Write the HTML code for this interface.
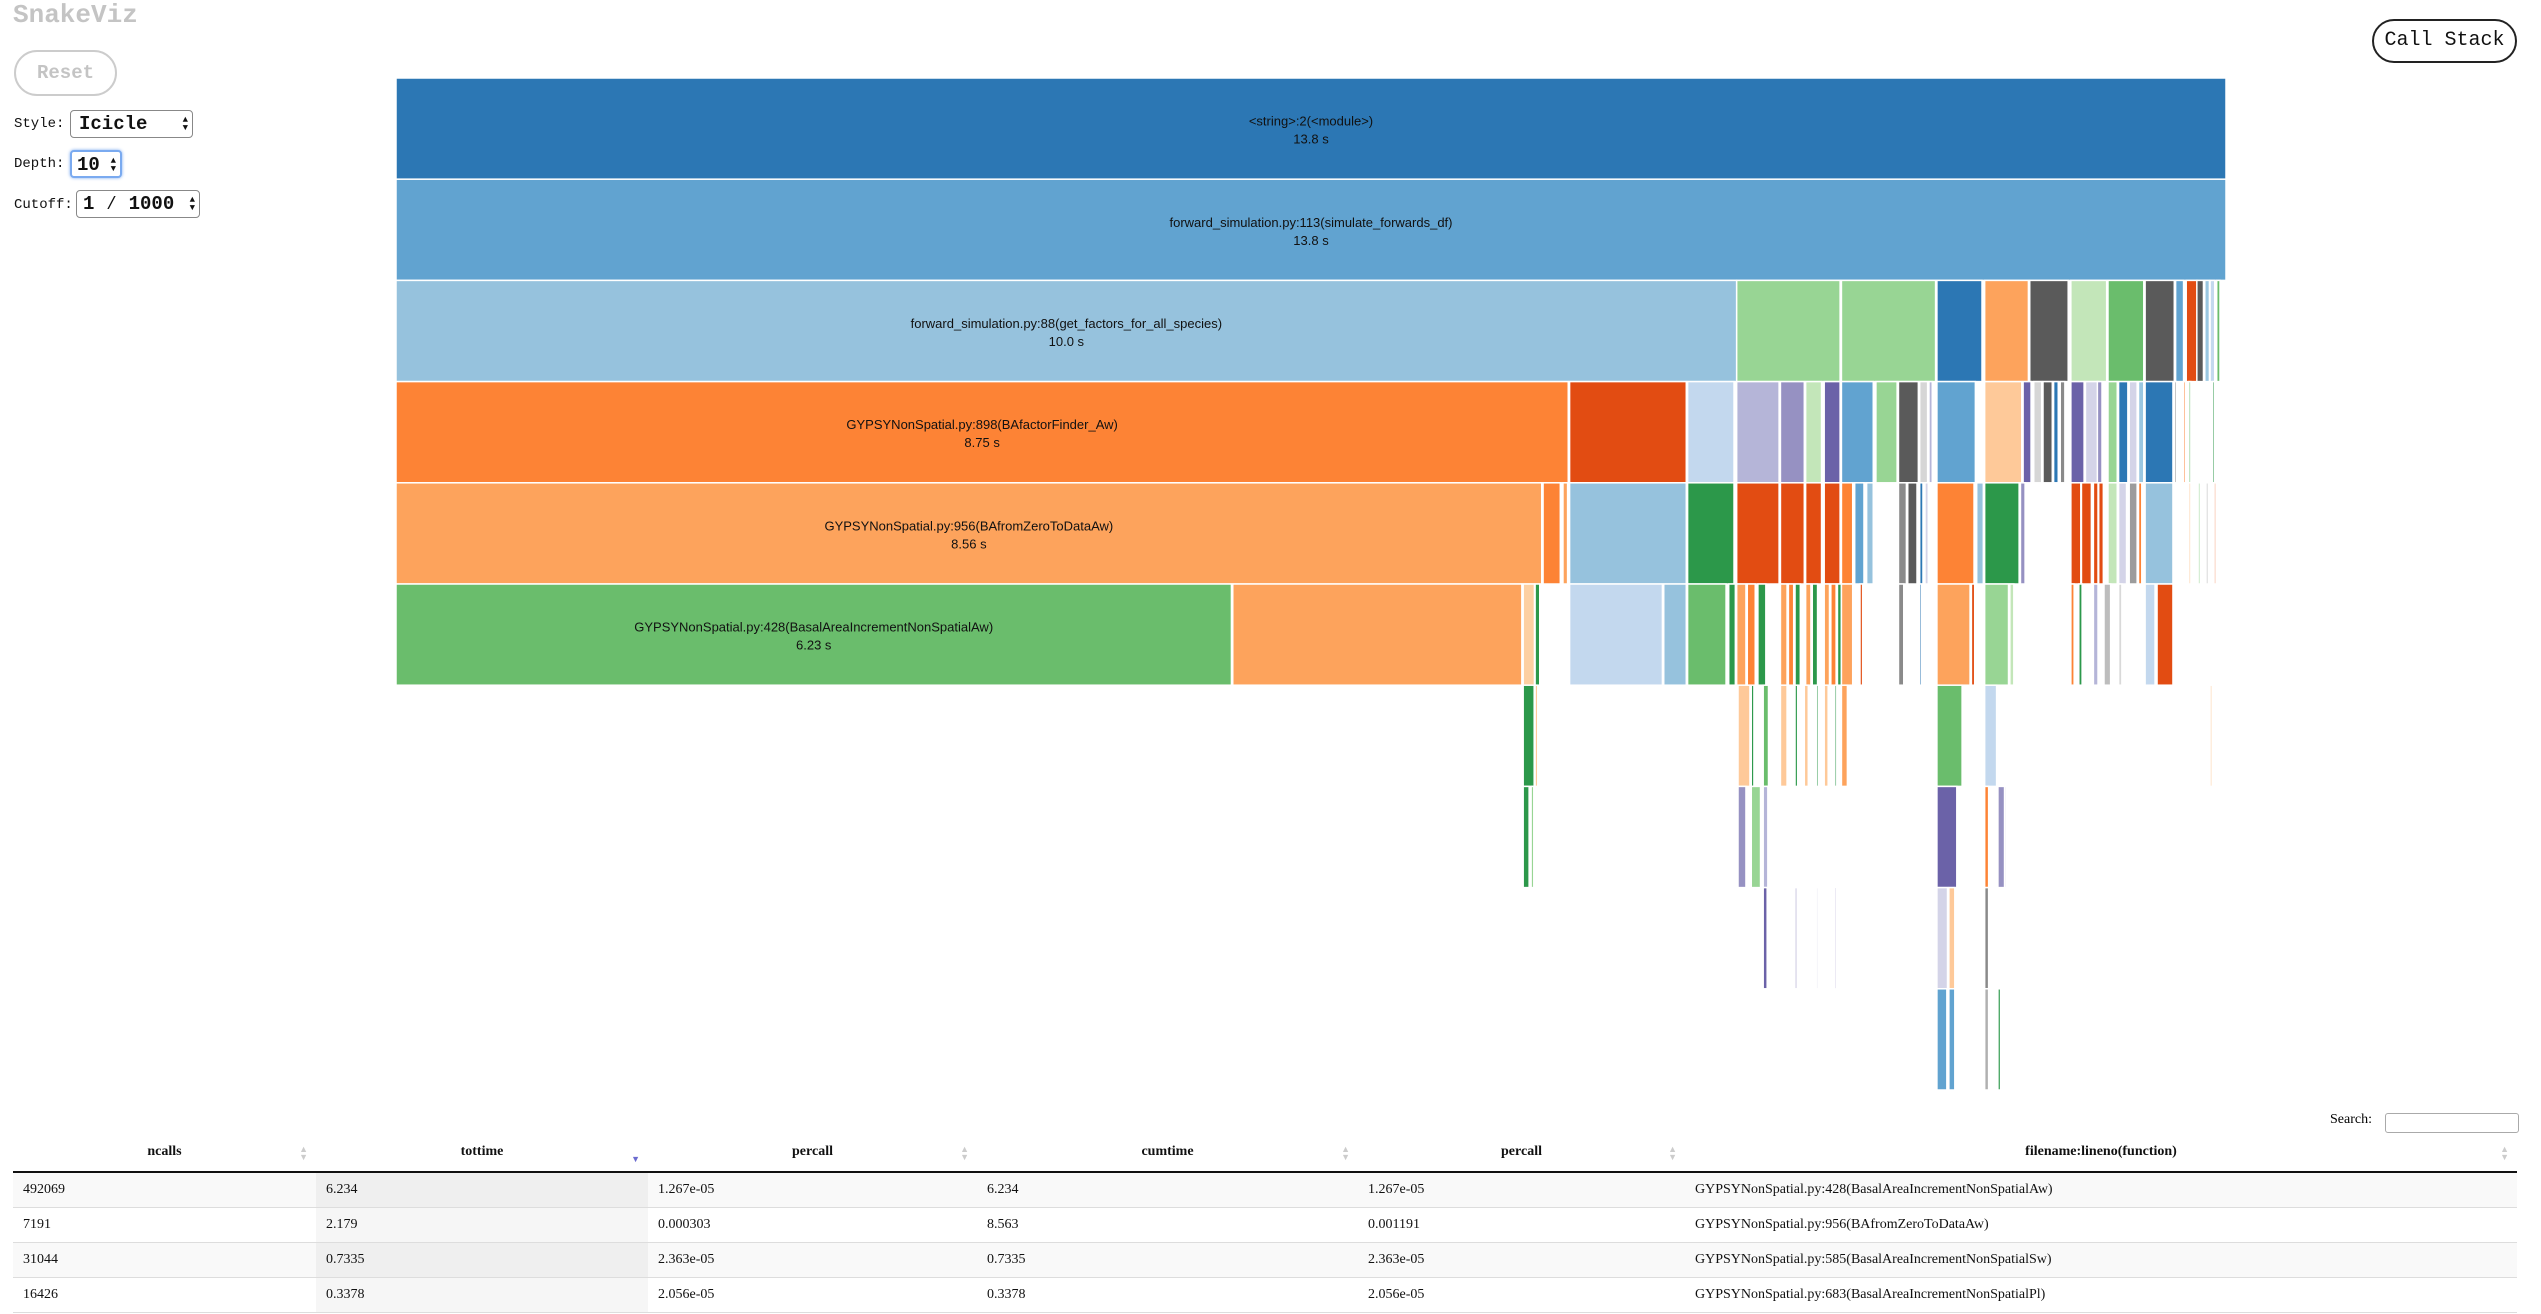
<!DOCTYPE html>
<html><head><meta charset="utf-8">
<style>
body{margin:0;width:2541px;height:1314px;background:#fff;position:relative;overflow:hidden;font-family:"Liberation Mono",monospace}
.abs{position:absolute}
#title{left:13px;top:0px;font-size:26px;font-weight:bold;color:#c4c4c4}
#reset{left:14px;top:50px;width:103px;height:46px;border:2px solid #ccc;border-radius:24px;box-sizing:border-box;color:#c4c4c4;font-size:19px;font-weight:bold;text-align:center;line-height:42px}
.lbl{font-size:14px;color:#111}
.sel{border:1px solid #888;border-radius:4px;box-sizing:border-box;background:#fff;font-size:19px;font-weight:bold;color:#111;padding-left:8px;line-height:26px}
.arr{position:absolute;right:4px;top:5px;font-size:9px;line-height:8px;text-align:center}
#callstack{left:2372px;top:19px;width:145px;height:44px;border:2px solid #222;border-radius:22px;box-sizing:border-box;font-size:20px;text-align:center;line-height:40px;color:#111}
#chart{left:0;top:0}
table{position:absolute;left:13px;top:1133px;width:2504px;border-collapse:collapse;font-family:"Liberation Serif",serif;font-size:14px;color:#111}
th{font-weight:bold;height:38px;border-bottom:2px solid #111;position:relative;text-align:center;padding:0}
th .s{position:absolute;right:8px;top:12px;color:#ccc;font-size:9px;line-height:8px}
td{height:34px;border-bottom:1px solid #ddd;padding:0 0 0 10px}
tr.o td{background:#f9f9f9}
tr.o td.srt{background:#efefef}
tr.e td.srt{background:#f6f6f6}
</style></head><body>
<div class="abs" id="title">SnakeViz</div>
<div class="abs" id="reset">Reset</div>
<div class="abs lbl" style="left:14px;top:116px">Style:</div>
<div class="abs sel" style="left:70px;top:110px;width:123px;height:28px">Icicle<div class="arr">▲<br>▼</div></div>
<div class="abs lbl" style="left:14px;top:156px">Depth:</div>
<div class="abs sel" style="left:70px;top:150px;width:52px;height:28px;border:2px solid #7aaaf0;box-shadow:0 0 3px #7aaaf0;padding-left:5px">10<div class="arr">▲<br>▼</div></div>
<div class="abs lbl" style="left:14px;top:197px">Cutoff:</div>
<div class="abs sel" style="left:76px;top:190px;width:124px;height:28px;padding-left:6px">1 ⁄ 1000<div class="arr">▲<br>▼</div></div>
<div class="abs" id="callstack">Call Stack</div>

<svg id="chart" class="abs" width="2541" height="1100"></svg>

<div class="abs" style="left:2330px;top:1112px;font-family:'Liberation Serif',serif;font-size:14px">Search:</div>
<div class="abs" style="left:2385px;top:1113px;width:132px;height:18px;border:1px solid #aaa;border-radius:3px"></div>

<table>
<colgroup><col style="width:303px"><col style="width:332px"><col style="width:329px"><col style="width:381px"><col style="width:327px"><col></colgroup>
<tr>
<th>ncalls<span class="s">▲<br>▼</span></th>
<th>tottime<span class="s" style="color:#6b6bcf;top:22px">▼</span></th>
<th>percall<span class="s">▲<br>▼</span></th>
<th>cumtime<span class="s">▲<br>▼</span></th>
<th>percall<span class="s">▲<br>▼</span></th>
<th>filename:lineno(function)<span class="s">▲<br>▼</span></th></tr>
<tr class="o"><td>492069</td><td class="srt">6.234</td><td>1.267e-05</td><td>6.234</td><td>1.267e-05</td><td>GYPSYNonSpatial.py:428(BasalAreaIncrementNonSpatialAw)</td></tr>
<tr class="e"><td>7191</td><td class="srt">2.179</td><td>0.000303</td><td>8.563</td><td>0.001191</td><td>GYPSYNonSpatial.py:956(BAfromZeroToDataAw)</td></tr>
<tr class="o"><td>31044</td><td class="srt">0.7335</td><td>2.363e-05</td><td>0.7335</td><td>2.363e-05</td><td>GYPSYNonSpatial.py:585(BasalAreaIncrementNonSpatialSw)</td></tr>
<tr class="e"><td>16426</td><td class="srt">0.3378</td><td>2.056e-05</td><td>0.3378</td><td>2.056e-05</td><td>GYPSYNonSpatial.py:683(BasalAreaIncrementNonSpatialPl)</td></tr>
</table>

<script>
// icicle data: depth, start (s), duration (s), colour, label, time label
const totalTime = 13.8;
const nodeDepth = [0,1,2,2,2,2,2,2,2,2,2,2,2,2,2,2,2,
3,3,3,3,3,3,3,3,3,3,3,3,3,3,3,3,3,3,3,3,3,3,3,3,3,3,3,3,3,3,3,
4,4,4,4,4,4,4,4,4,4,4,4,4,4,4,4,4,4,4,4,4,4,4,4,4,4,4,4,4,4,4,4,4,
5,5,5,5,5,5,5,5,5,5,5,5,5,5,5,5,5,5,5,5,5,5,5,5,5,5,5,5,5,5,5,5,5,5,
6,6,6,6,6,6,6,6,6,6,6,6,6,6,6,
7,7,7,7,7,7,7,7,7,
8,8,8,8,8,8,8,8,
9,9,9,9];
const nodeStart = [0,0,0,10.11,10.90,11.62,11.98,12.32,12.63,12.91,13.19,13.42,13.50,13.58,13.64,13.68,13.73,
0,8.85,9.74,10.11,10.44,10.63,10.77,10.90,11.16,11.33,11.49,11.56,11.62,11.98,12.27,12.35,12.42,12.50,12.55,12.63,12.74,12.83,12.91,12.99,13.07,13.14,13.19,13.41,13.48,13.52,13.70,
0,8.65,8.80,8.85,9.74,10.11,10.44,10.63,10.77,10.90,11.00,11.09,11.33,11.40,11.49,11.53,11.62,11.92,11.98,12.25,12.63,12.71,12.80,12.84,12.91,12.99,13.07,13.14,13.19,13.52,13.59,13.65,13.71,
0,6.31,8.50,8.59,8.85,9.56,9.74,10.05,10.11,10.19,10.27,10.44,10.50,10.55,10.63,10.68,10.77,10.82,10.87,10.90,11.04,11.33,11.49,11.62,11.88,11.98,12.17,12.63,12.69,12.80,12.88,12.99,13.19,13.28,13.68,
8.50,8.59,10.12,10.22,10.31,10.44,10.55,10.62,10.71,10.77,10.85,10.90,11.62,11.98,12.08,
8.50,8.56,10.12,10.22,10.31,11.62,11.98,12.08,12.25,
10.31,10.55,10.71,10.85,11.62,11.71,11.98,12.08,
11.62,11.71,11.98,12.08];
const nodeDur = [13.8,13.8,10.11,0.78,0.71,0.34,0.33,0.29,0.27,0.27,0.22,0.06,0.085,0.05,0.035,0.035,0.025,
8.84,0.88,0.35,0.32,0.18,0.12,0.12,0.24,0.16,0.15,0.06,0.025,0.29,0.28,0.06,0.06,0.07,0.035,0.035,0.10,0.10,0.035,0.07,0.07,0.06,0.04,0.21,0.015,0.015,0.015,0.015,
8.64,0.13,0.035,0.88,0.35,0.32,0.18,0.12,0.12,0.085,0.07,0.05,0.06,0.07,0.025,0.025,0.28,0.05,0.26,0.035,0.075,0.075,0.035,0.035,0.07,0.06,0.06,0.025,0.21,0.015,0.015,0.015,0.015,
6.30,2.18,0.085,0.035,0.70,0.17,0.29,0.05,0.07,0.06,0.06,0.05,0.04,0.04,0.04,0.04,0.04,0.04,0.03,0.085,0.02,0.04,0.015,0.25,0.025,0.18,0.03,0.025,0.025,0.035,0.05,0.025,0.075,0.12,0.015,
0.083,0.02,0.09,0.02,0.04,0.05,0.02,0.03,0.015,0.03,0.015,0.045,0.19,0.09,0.06,
0.045,0.02,0.06,0.07,0.035,0.15,0.03,0.05,0.01,
0.03,0.015,0.012,0.012,0.08,0.045,0.03,0.02,
0.075,0.045,0.03,0.008];
const nodeColor = ["#2c77b4","#61a3d0","#96c2dd","#98d594","#98d594","#2c77b4","#fda35c","#5a5a5a","#c3e6b9","#6abd6c","#5a5a5a","#61a3d0","#e24c12","#5a5a5a","#9ac7e1","#c3d8ee","#6abd6c",
"#fd8335","#e24c12","#c3d8ee","#b5b5d8","#9691c2","#c3e6b9","#6b62a8","#61a3d0","#98d594","#5a5a5a","#d6d6d6","#b5b5d8","#61a3d0","#fec999","#6b62a8","#d6d6d6","#5a5a5a","#2c77b4","#8a8a8a","#6b62a8","#d4d4e8","#9691c2","#98d594","#2c77b4","#d4d4e8","#9ac7e1","#2c77b4","#8a8a8a","#fd8335","#6abd6c","#2c984a",
"#fda35c","#fd8335","#fda35c","#96c2dd","#2c984a","#e24c12","#e24c12","#e24c12","#e24c12","#fd8335","#61a3d0","#96c2dd","#8a8a8a","#5a5a5a","#2c77b4","#d4d4e8","#fd8335","#96c2dd","#2c984a","#9691c2","#e24c12","#e24c12","#e24c12","#e24c12","#c3e6b9","#d4d4e8","#9c9c9c","#fd8335","#96c2dd","#fec999","#98d594","#b0b0b0","#f4a582",
"#6abd6c","#fda35c","#fdd0a2","#2c984a","#c3d8ee","#96c2dd","#6abd6c","#2c984a","#fda35c","#fd8335","#2c984a","#fda35c","#fd8335","#2c984a","#fda35c","#2c984a","#fda35c","#fd8335","#2c984a","#fda35c","#e24c12","#8a8a8a","#2c77b4","#fda35c","#e24c12","#98d594","#c3e6b9","#fd8335","#2c984a","#b5b5d8","#bdbdbd","#d9d9d9","#c3d8ee","#e24c12","#fec999",
"#2c984a","#fec999","#fec999","#2c984a","#6abd6c","#fec999","#2c984a","#fec999","#2c984a","#fec999","#2c984a","#fda35c","#6abd6c","#c3d8ee","#6b62a8",
"#2c984a","#98d594","#9691c2","#98d594","#b5b5d8","#6b62a8","#fd8335","#9691c2","#e24c12",
"#6b62a8","#9691c2","#9691c2","#6b62a8","#d4d4e8","#fec999","#8a8a8a","#2c984a",
"#61a3d0","#61a3d0","#b0b0b0","#e24c12"];
const nodeLabel = {0:["<string>:2(<module>)","13.8 s"],1:["forward_simulation.py:113(simulate_forwards_df)","13.8 s"],2:["forward_simulation.py:88(get_factors_for_all_species)","10.0 s"],17:["GYPSYNonSpatial.py:898(BAfactorFinder_Aw)","8.75 s"],48:["GYPSYNonSpatial.py:956(BAfromZeroToDataAw)","8.56 s"],81:["GYPSYNonSpatial.py:428(BasalAreaIncrementNonSpatialAw)","6.23 s"]};

const svg = document.getElementById('chart');
const NS = 'http://www.w3.org/2000/svg';
const X0 = 396, X1 = 2226, Y0 = 78, ROWH = 101.2;
function xScale(t){ return X0 + (t / totalTime) * (X1 - X0); }
function yScale(d){ return Y0 + d * ROWH; }
for (let i = 0; i < nodeDepth.length; i++) {
  const r = document.createElementNS(NS, 'rect');
  
  
  const x = xScale(nodeStart[i]), w = Math.max(xScale(nodeStart[i] + nodeDur[i]) - x, 1.2);
  r.setAttribute('x', x); r.setAttribute('y', yScale(nodeDepth[i]));
  r.setAttribute('width', w); r.setAttribute('height', ROWH);
  r.setAttribute('fill', nodeColor[i]); r.setAttribute('stroke', '#fff'); r.setAttribute('stroke-width', '1.5');
  svg.appendChild(r);
  if (nodeLabel[i]) {
    const cx = x + w / 2, cy = yScale(nodeDepth[i]) + ROWH / 2;
    nodeLabel[i].forEach((s, k) => {
      const t = document.createElementNS(NS, 'text');
      
      
      t.setAttribute('x', cx); t.setAttribute('y', cy - 3 + k * 18);
      t.setAttribute('text-anchor', 'middle');
      t.setAttribute('font-family', 'Liberation Sans, sans-serif');
      t.setAttribute('font-size', '13'); t.setAttribute('fill', '#111');
      t.textContent = s;
      svg.appendChild(t);
    });
  }
}
</script>
</body></html>
